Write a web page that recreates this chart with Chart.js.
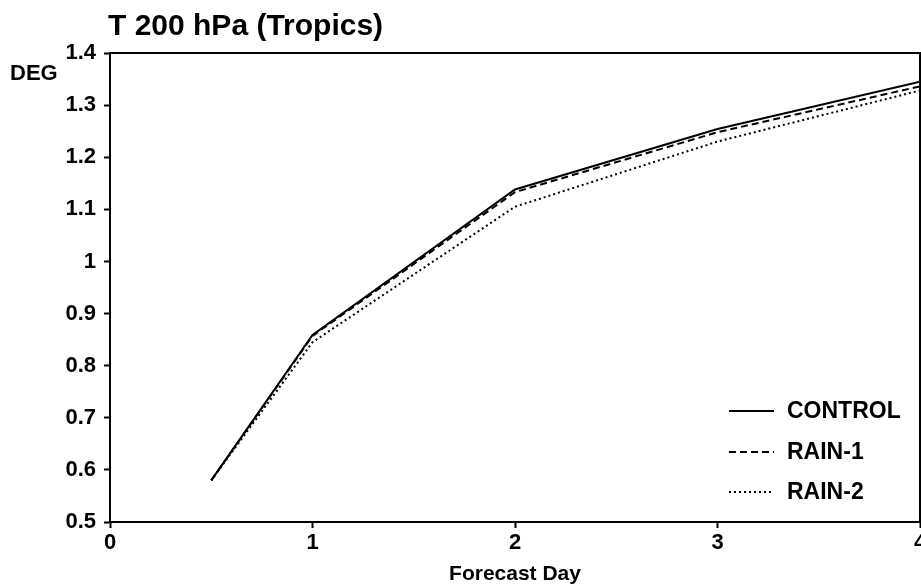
<!DOCTYPE html>
<html>
<head>
<meta charset="utf-8">
<title>T 200 hPa (Tropics)</title>
<script src="https://cdn.jsdelivr.net/npm/chart.js@4.4.1/dist/chart.umd.min.js"></script>
<style>
    html, body { margin: 0; padding: 0; background: #fff; }
    canvas { display: block; }
</style>
</head>
<body>
<canvas id="forecastChart" width="921" height="585"></canvas>
<script>
// Chart values
const forecastDays = [0.5, 1, 2, 3, 4];
const controlValues = [0.58, 0.859, 1.138, 1.254, 1.345];
const rain1Values = [0.58, 0.857, 1.133, 1.248, 1.336];
const rain2Values = [0.58, 0.845, 1.105, 1.230, 1.328];
const xTickValues = [0, 1, 2, 3, 4];
const yTickValues = [0.5, 0.6, 0.7, 0.8, 0.9, 1.0, 1.1, 1.2, 1.3, 1.4];

const FONT = '"Liberation Sans", Arial, Helvetica, sans-serif';

function toPoints(values) {
    return values.map((v, i) => ({ x: forecastDays[i], y: v }));
}

// Title, "DEG" label, frame and legend drawn on top of the chart
const decorations = {
    id: 'decorations',
    afterDraw(chart) {
        const ctx = chart.ctx;
        const area = chart.chartArea;
        ctx.save();
        ctx.fillStyle = '#000';
        ctx.textBaseline = 'alphabetic';
        ctx.textAlign = 'left';
        ctx.font = 'bold 30px ' + FONT;
        ctx.fillText('T 200 hPa (Tropics)', 108, 35);
        ctx.font = 'bold 22px ' + FONT;
        ctx.fillText('DEG', 10, 80);

        // top and right frame lines
        ctx.strokeStyle = '#000';
        ctx.lineWidth = 2;
        ctx.beginPath();
        ctx.moveTo(area.left, area.top);
        ctx.lineTo(area.right, area.top);
        ctx.lineTo(area.right, area.bottom);
        ctx.stroke();

        // legend
        const rows = [411, 452, 492];
        ctx.font = 'bold 23px ' + FONT;
        ctx.textBaseline = 'middle';
        chart.data.datasets.forEach((ds, i) => {
            ctx.beginPath();
            ctx.setLineDash(ds.borderDash || []);
            ctx.lineWidth = ds.borderWidth;
            ctx.moveTo(729, rows[i]);
            ctx.lineTo(774, rows[i]);
            ctx.stroke();
            ctx.setLineDash([]);
            ctx.fillText(ds.label, 787, rows[i] + 1);
        });
        ctx.restore();
    }
};

function noLabelPadding(scale) {
    scale.paddingLeft = 0;
    scale.paddingRight = 0;
    scale.paddingTop = 0;
    scale.paddingBottom = 0;
}

function initializeForecastChart() {
    const ctx = document.getElementById('forecastChart');
    if (!ctx) return;

    new Chart(ctx, {
        type: 'line',
        data: {
            datasets: [{
                label: 'CONTROL',
                data: toPoints(controlValues),
                borderColor: '#000',
                borderWidth: 2,
                borderDash: []
            }, {
                label: 'RAIN-1',
                data: toPoints(rain1Values),
                borderColor: '#000',
                borderWidth: 2,
                borderDash: [7, 4]
            }, {
                label: 'RAIN-2',
                data: toPoints(rain2Values),
                borderColor: '#000',
                borderWidth: 2,
                borderDash: [2, 3]
            }]
        },
        options: {
            responsive: false,
            animation: false,
            events: [],
            layout: {
                padding: { top: 53, right: 1, left: 0, bottom: 0 }
            },
            elements: {
                point: { radius: 0 },
                line: { tension: 0 }
            },
            plugins: {
                legend: { display: false },
                title: { display: false },
                tooltip: { enabled: false }
            },
            scales: {
                x: {
                    type: 'linear',
                    min: 0,
                    max: 4,
                    afterBuildTicks: scale => {
                        scale.ticks = xTickValues.map(v => ({ value: v }));
                    },
                    afterFit: scale => {
                        scale.height = 63;
                        noLabelPadding(scale);
                    },
                    ticks: {
                        color: '#000',
                        font: { family: FONT, size: 22, weight: 'bold' },
                        padding: 2,
                        maxRotation: 0,
                        callback: v => String(v)
                    },
                    grid: {
                        drawOnChartArea: false,
                        drawTicks: true,
                        tickLength: 6,
                        tickWidth: 2,
                        tickColor: '#000'
                    },
                    border: { display: true, color: '#000', width: 2 },
                    title: {
                        display: true,
                        text: 'Forecast Day',
                        color: '#000',
                        font: { family: FONT, size: 21, weight: 'bold', lineHeight: 1 },
                        padding: { top: 0, bottom: 0 }
                    }
                },
                y: {
                    type: 'linear',
                    min: 0.5,
                    max: 1.4,
                    afterBuildTicks: scale => {
                        scale.ticks = yTickValues.map(v => ({ value: v }));
                    },
                    afterFit: scale => {
                        scale.width = 110;
                        noLabelPadding(scale);
                    },
                    ticks: {
                        color: '#000',
                        font: { family: FONT, size: 22, weight: 'bold' },
                        padding: 8,
                        callback: v => String(Number(v.toFixed(1)))
                    },
                    grid: {
                        drawOnChartArea: false,
                        drawTicks: true,
                        tickLength: 6,
                        tickWidth: 2,
                        tickColor: '#000'
                    },
                    border: { display: true, color: '#000', width: 2 }
                }
            }
        },
        plugins: [decorations]
    });
}

document.addEventListener('DOMContentLoaded', initializeForecastChart);
</script>
</body>
</html>
